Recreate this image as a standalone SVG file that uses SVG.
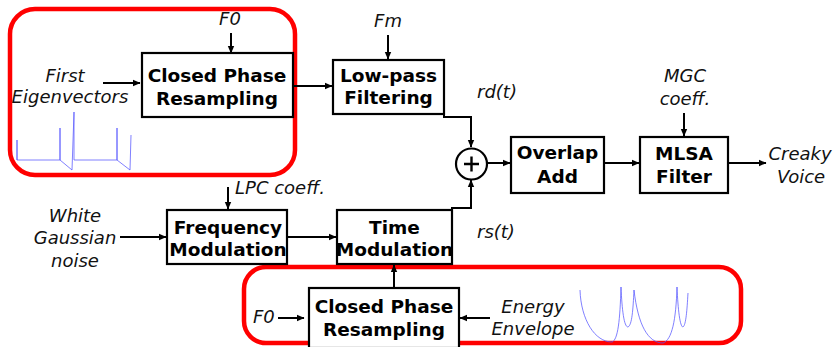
<svg xmlns="http://www.w3.org/2000/svg" width="834" height="347" viewBox="0 0 834 347">
  <defs>
    <marker id="arrow" markerWidth="8" markerHeight="8" refX="7" refY="4" orient="auto" markerUnits="userSpaceOnUse">
      <path d="M0,0.8 L7.5,4 L0,7.2 Z" fill="#000"/>
    </marker>
    <style>
      .box { fill: #fff; stroke: #000; stroke-width: 2.2; }
      .group { fill: none; stroke: #ff0000; stroke-width: 4.5; }
      .wire { fill: none; stroke: #000; stroke-width: 2; }
      .arr { marker-end: url(#arrow); }
      .bold { font-family: "DejaVu Sans", "Liberation Sans", sans-serif; font-weight: bold; font-size: 18.5px; fill: #000; text-anchor: middle; }
      .lbl { font-family: "DejaVu Sans", "Liberation Sans", sans-serif; font-style: italic; font-size: 18px; fill: #111; }
      .mid { text-anchor: middle; }
      .wave { fill: none; stroke: #5555ff; stroke-width: 1; stroke-opacity: 0.75; }
    </style>
  </defs>

  <rect width="834" height="347" fill="#fff"/>

  <!-- Grouping outlines -->
  <g id="group-top">
    <rect class="group" x="10" y="9" width="285" height="166" rx="25" ry="25"/>
    <path class="wave" d="M17,160 V140 V160 H60 V128 V160 L72,170 L74,112 V160 H117 V128 V160 L130,170 L131,135"/>
  </g>
  <g id="group-bottom">
    <rect class="group" x="244" y="267" width="497" height="76" rx="22" ry="22"/>
    <path class="wave" d="M580,290 C581,320 595,342 612,342 C618,340 620,320 621,287 C622,310 624,327 628,327 C632,325 633,310 634,290 C638,325 648,343 663,343 C672,340 676,320 677,287 C678,310 680,327 683,327 C686,325 687,310 688,293"/>
  </g>

  <!-- Connectors -->
  <g id="connectors">
    <line class="wire arr" x1="231" y1="33" x2="231" y2="53"/>
    <line class="wire arr" x1="103" y1="83" x2="140" y2="83"/>
    <line class="wire arr" x1="293" y1="86" x2="332" y2="86"/>
    <line class="wire arr" x1="388" y1="35" x2="388" y2="59"/>
    <path class="wire arr" d="M444,114 V117 H471 V147"/>
    <line class="wire arr" x1="487" y1="163" x2="510" y2="163"/>
    <line class="wire arr" x1="604" y1="163" x2="639" y2="163"/>
    <line class="wire arr" x1="684" y1="113" x2="684" y2="136"/>
    <line class="wire arr" x1="728" y1="163" x2="766" y2="163"/>
    <line class="wire arr" x1="228" y1="187" x2="228" y2="209"/>
    <line class="wire arr" x1="120" y1="237" x2="166" y2="237"/>
    <line class="wire arr" x1="287" y1="237" x2="336" y2="237"/>
    <path class="wire arr" d="M452,210 V208 H471 V180"/>
    <line class="wire arr" x1="394" y1="288" x2="394" y2="265"/>
    <line class="wire arr" x1="278" y1="318" x2="304" y2="318"/>
    <line class="wire arr" x1="490" y1="318" x2="460" y2="318"/>
  </g>

  <!-- Processing blocks -->
  <g id="cp-resampling-top">
    <rect class="box" x="142" y="53" width="151" height="64"/>
    <text class="bold" x="217" y="82">Closed Phase</text>
    <text class="bold" x="217" y="105">Resampling</text>
  </g>
  <g id="lowpass">
    <rect class="box" x="333" y="60" width="111" height="54"/>
    <text class="bold" x="388.5" y="82">Low-pass</text>
    <text class="bold" x="388.5" y="104">Filtering</text>
  </g>
  <g id="sum">
    <circle cx="471.5" cy="164" r="15.5" fill="#fff" stroke="#000" stroke-width="2.2"/>
    <path d="M464,164 H479 M471.5,156.5 V171.5" stroke="#000" stroke-width="2.4"/>
  </g>
  <g id="overlap-add">
    <rect class="box" x="511" y="137" width="93" height="56"/>
    <text class="bold" x="557.5" y="159">Overlap</text>
    <text class="bold" x="557.5" y="183">Add</text>
  </g>
  <g id="mlsa">
    <rect class="box" x="640" y="137" width="88" height="56"/>
    <text class="bold" x="684" y="160">MLSA</text>
    <text class="bold" x="684" y="183">Filter</text>
  </g>
  <g id="freq-mod">
    <rect class="box" x="167" y="210" width="120" height="54"/>
    <text class="bold" x="228" y="234">Frequency</text>
    <text class="bold" x="228" y="256">Modulation</text>
  </g>
  <g id="time-mod">
    <rect class="box" x="337" y="210" width="115" height="54"/>
    <text class="bold" x="394.5" y="234">Time</text>
    <text class="bold" x="394.5" y="256">Modulation</text>
  </g>
  <g id="cp-resampling-bottom">
    <rect class="box" x="309" y="288" width="150" height="60"/>
    <text class="bold" x="384" y="313">Closed Phase</text>
    <text class="bold" x="384" y="336">Resampling</text>
  </g>

  <!-- Signal labels -->
  <g id="labels">
    <text class="lbl mid" x="230" y="25">F0</text>
    <text class="lbl mid" x="65" y="82">First</text>
    <text class="lbl mid" x="70" y="103">Eigenvectors</text>
    <text class="lbl mid" x="388" y="27">Fm</text>
    <text class="lbl" x="477" y="98">rd(t)</text>
    <text class="lbl mid" x="685" y="82">MGC</text>
    <text class="lbl mid" x="685" y="105">coeff.</text>
    <text class="lbl mid" x="800" y="160">Creaky</text>
    <text class="lbl mid" x="801" y="183">Voice</text>
    <text class="lbl" x="235" y="194">LPC coeff.</text>
    <text class="lbl mid" x="75" y="222">White</text>
    <text class="lbl mid" x="75" y="244">Gaussian</text>
    <text class="lbl mid" x="75" y="267">noise</text>
    <text class="lbl" x="477" y="238">rs(t)</text>
    <text class="lbl" x="253" y="323">F0</text>
    <text class="lbl mid" x="533" y="313">Energy</text>
    <text class="lbl mid" x="533" y="335">Envelope</text>
  </g>
</svg>
